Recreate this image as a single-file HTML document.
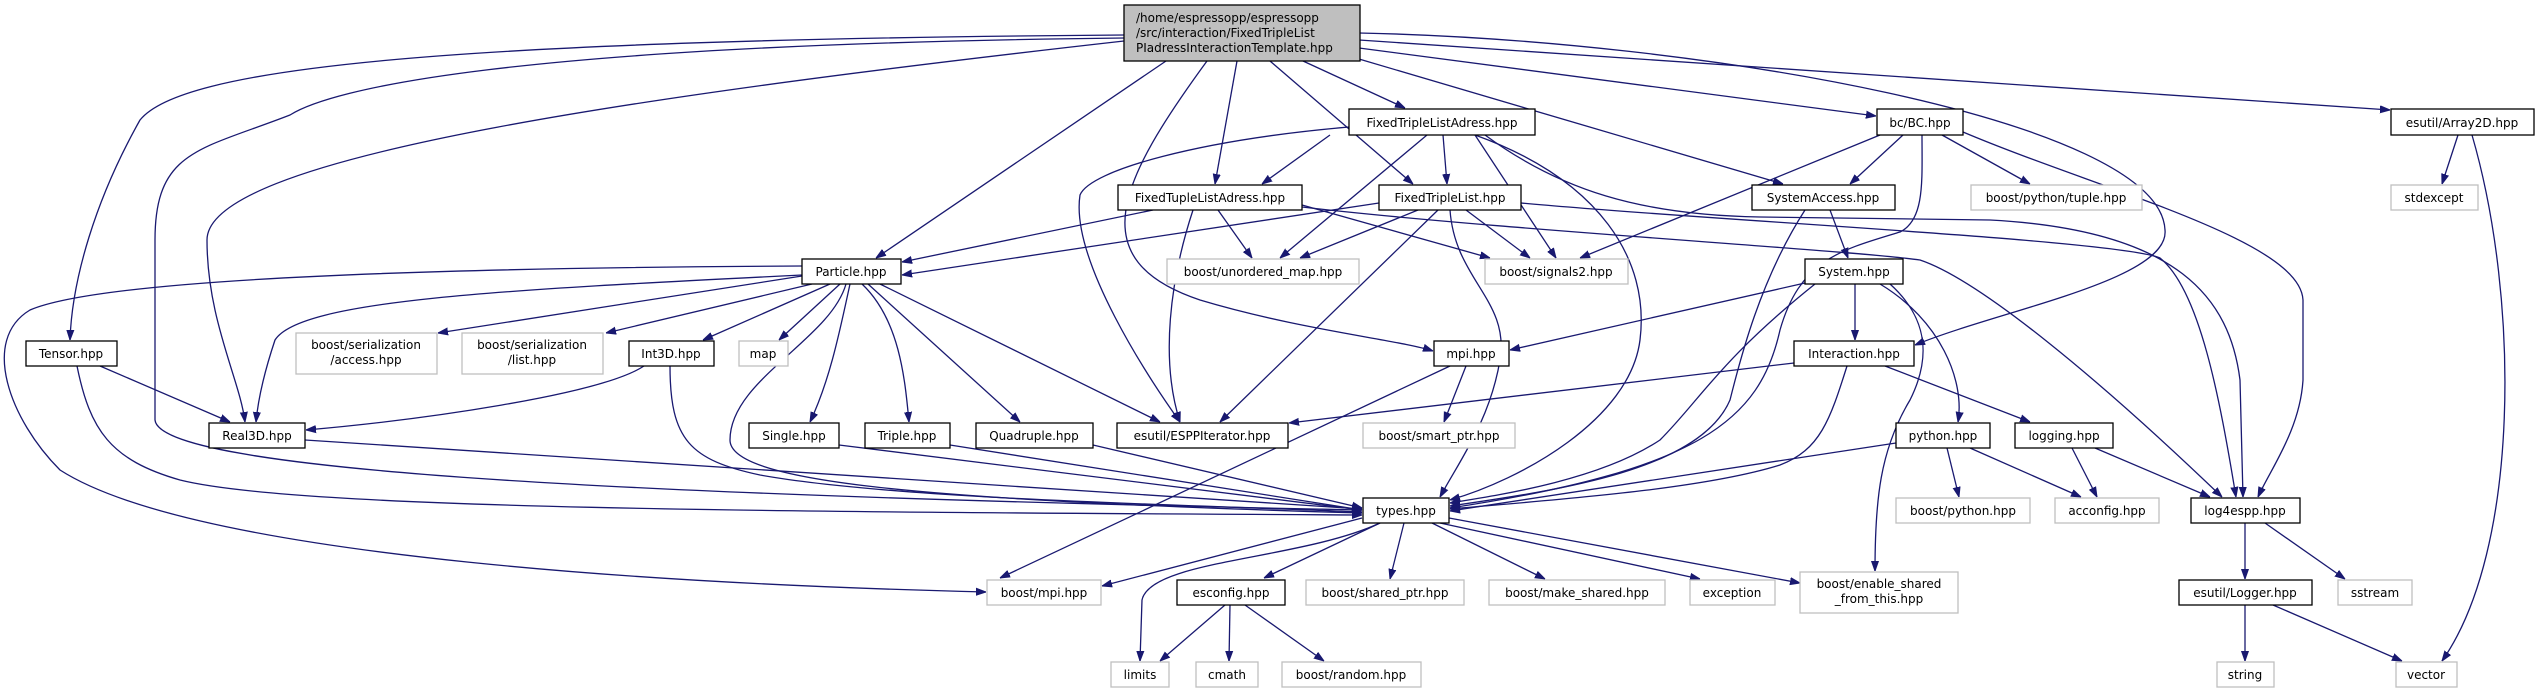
<!DOCTYPE html>
<html><head><meta charset="utf-8"><style>
html,body{margin:0;padding:0;background:#fff;}
svg{display:block;}
text{font-family:"DejaVu Sans","Liberation Sans",sans-serif;font-size:12px;fill:#000;}
.e{fill:none;stroke:#191970;stroke-width:1.3;marker-end:url(#a);}
.n{fill:#fff;stroke:#000;stroke-width:1.3;}
.g{fill:#fff;stroke:#bfbfbf;stroke-width:1.3;}
</style></head><body>
<svg width="2541" height="693" viewBox="0 0 2541 693" xmlns="http://www.w3.org/2000/svg">
<defs><marker id="a" viewBox="0 0 10 10" refX="10" refY="5" markerWidth="10" markerHeight="10" markerUnits="userSpaceOnUse" orient="auto"><path d="M0,1.5 L10,5 L0,8.5 z" fill="#191970" stroke="#191970"/></marker></defs>
<g>
<path class="e" d="M1124,35 C420,40 180,70 140,120 C95,200 72,280 70,340"/>
<path class="e" d="M1124,38 C500,45 330,90 290,115 C200,150 155,150 155,240 L155,420 C160,470 600,495 1362,510"/>
<path class="e" d="M1124,41 C600,100 207,160 207,240 C207,320 240,380 245,422"/>
<path class="e" d="M1166,61 L876,258"/>
<path class="e" d="M1207,61 C1120,180 1080,260 1200,300 C1300,330 1400,340 1433,351"/>
<path class="e" d="M1237,61 L1215,184"/>
<path class="e" d="M1303,61 L1405,108"/>
<path class="e" d="M1270,61 L1413,184"/>
<path class="e" d="M1359,59 L1783,184"/>
<path class="e" d="M1359,48 L1876,116"/>
<path class="e" d="M1359,33 C1700,40 2160,120 2165,230 C2170,280 2000,310 1915,345"/>
<path class="e" d="M1359,40 L2390,110"/>
<path class="e" d="M1330,135 L1262,184"/>
<path class="e" d="M1443,135 L1447,184"/>
<path class="e" d="M1427,135 L1280,258"/>
<path class="e" d="M1475,135 L1556,258"/>
<path class="e" d="M1349,127 C1200,140 1090,170 1080,195 C1070,260 1150,380 1180,422"/>
<path class="e" d="M1475,135 C1600,180 1650,260 1640,340 C1630,420 1520,480 1450,500"/>
<path class="e" d="M1485,135 C1560,190 1640,215 1760,217 L1990,220 C2180,230 2230,300 2240,380 L2243,497"/>
<path class="e" d="M1153,210 L902,262"/>
<path class="e" d="M1218,210 L1252,258"/>
<path class="e" d="M1302,205 L1490,258"/>
<path class="e" d="M1193,210 C1170,280 1160,360 1180,422"/>
<path class="e" d="M1302,207 C1500,230 1850,250 1920,260 C1980,280 2100,380 2222,497"/>
<path class="e" d="M1379,203 L902,275"/>
<path class="e" d="M1418,210 L1300,258"/>
<path class="e" d="M1466,210 L1530,258"/>
<path class="e" d="M1438,210 L1220,422"/>
<path class="e" d="M1450,210 C1455,280 1510,300 1500,360 C1490,420 1460,460 1440,497"/>
<path class="e" d="M1521,203 C1700,220 2120,240 2160,258 C2200,290 2220,400 2236,497"/>
<path class="e" d="M802,275 C500,290 300,300 275,340 C265,370 258,400 256,422"/>
<path class="e" d="M802,266 C400,268 100,280 30,310 C-20,340 10,420 60,470 C200,560 700,585 986,592"/>
<path class="e" d="M802,276 L438,333"/>
<path class="e" d="M812,284 L606,333"/>
<path class="e" d="M830,284 L703,340"/>
<path class="e" d="M840,284 L779,340"/>
<path class="e" d="M850,284 C840,330 830,380 810,422"/>
<path class="e" d="M862,284 C900,320 905,380 909,422"/>
<path class="e" d="M868,284 L1020,422"/>
<path class="e" d="M880,284 L1160,422"/>
<path class="e" d="M846,284 C830,340 730,380 730,440 C730,480 900,500 1362,513"/>
<path class="e" d="M100,366 L230,422"/>
<path class="e" d="M77,366 C90,430 110,460 180,480 C300,510 800,512 1362,515"/>
<path class="e" d="M644,366 C600,395 420,420 306,430"/>
<path class="e" d="M670,366 C670,440 690,460 760,475 C900,500 1200,505 1362,512"/>
<path class="e" d="M305,440 L1362,509"/>
<path class="e" d="M839,445 L1362,510"/>
<path class="e" d="M950,445 L1362,510"/>
<path class="e" d="M1093,445 L1362,508"/>
<path class="e" d="M1450,366 L1000,578"/>
<path class="e" d="M1466,366 L1444,422"/>
<path class="e" d="M1362,518 L1102,586"/>
<path class="e" d="M1380,523 C1300,560 1150,560 1142,600 L1140,661"/>
<path class="e" d="M1380,523 L1264,578"/>
<path class="e" d="M1404,523 L1390,579"/>
<path class="e" d="M1432,523 L1545,579"/>
<path class="e" d="M1440,523 L1700,579"/>
<path class="e" d="M1449,518 L1800,583"/>
<path class="e" d="M1225,605 L1160,661"/>
<path class="e" d="M1230,605 L1229,661"/>
<path class="e" d="M1245,605 L1324,661"/>
<path class="e" d="M1805,283 L1510,350"/>
<path class="e" d="M1815,284 C1720,360 1700,400 1660,440 C1600,480 1500,495 1450,503"/>
<path class="e" d="M1855,284 L1855,340"/>
<path class="e" d="M1880,284 C1940,320 1965,380 1958,422"/>
<path class="e" d="M1890,284 C1930,320 1930,360 1910,400 C1880,450 1875,500 1875,571"/>
<path class="e" d="M1830,210 L1848,258"/>
<path class="e" d="M1805,210 C1760,280 1740,360 1730,400 C1700,470 1560,490 1450,506"/>
<path class="e" d="M1903,135 L1850,184"/>
<path class="e" d="M1880,135 L1580,258"/>
<path class="e" d="M1922,135 C1922,180 1925,220 1900,232 C1840,250 1800,260 1780,330 C1760,420 1700,470 1450,508"/>
<path class="e" d="M1942,135 L2030,184"/>
<path class="e" d="M1963,132 C2100,190 2300,240 2303,300 L2303,380 C2300,430 2270,470 2258,497"/>
<path class="e" d="M1794,363 L1289,423"/>
<path class="e" d="M1847,366 C1830,420 1820,450 1780,465 C1700,490 1550,500 1450,509"/>
<path class="e" d="M1885,366 L2030,422"/>
<path class="e" d="M1896,443 L1450,511"/>
<path class="e" d="M1947,448 L1959,497"/>
<path class="e" d="M1970,448 L2081,497"/>
<path class="e" d="M2072,448 L2097,497"/>
<path class="e" d="M2095,448 L2210,497"/>
<path class="e" d="M2245,523 L2245,579"/>
<path class="e" d="M2265,523 L2345,579"/>
<path class="e" d="M2245,605 L2245,661"/>
<path class="e" d="M2273,605 L2402,661"/>
<path class="e" d="M2458,135 L2442,184"/>
<path class="e" d="M2472,135 C2520,300 2520,550 2442,661"/>
</g>
<g>
<rect x="1124" y="5" width="236" height="56" fill="#bfbfbf" stroke="#000" stroke-width="1.3"/>
<text x="1136" y="22">/home/espressopp/espressopp</text>
<text x="1136" y="37">/src/interaction/FixedTripleList</text>
<text x="1136" y="52">PIadressInteractionTemplate.hpp</text>
</g>
<g text-anchor="middle">
<rect class="n" x="1349" y="109" width="186" height="26"/><text x="1442" y="127">FixedTripleListAdress.hpp</text>
<rect class="n" x="1877" y="109" width="86" height="26"/><text x="1920" y="127">bc/BC.hpp</text>
<rect class="n" x="2391" y="109" width="143" height="26"/><text x="2462" y="127">esutil/Array2D.hpp</text>
<rect class="n" x="1118" y="185" width="184" height="25"/><text x="1210" y="202">FixedTupleListAdress.hpp</text>
<rect class="n" x="1379" y="185" width="142" height="25"/><text x="1450" y="202">FixedTripleList.hpp</text>
<rect class="n" x="1752" y="185" width="143" height="25"/><text x="1823" y="202">SystemAccess.hpp</text>
<rect class="g" x="1971" y="185" width="171" height="25"/><text x="2056" y="202">boost/python/tuple.hpp</text>
<rect class="g" x="2391" y="185" width="87" height="25"/><text x="2434" y="202">stdexcept</text>
<rect class="n" x="802" y="259" width="99" height="25"/><text x="851" y="276">Particle.hpp</text>
<rect class="g" x="1167" y="259" width="192" height="25"/><text x="1263" y="276">boost/unordered_map.hpp</text>
<rect class="g" x="1485" y="259" width="143" height="25"/><text x="1556" y="276">boost/signals2.hpp</text>
<rect class="n" x="1805" y="259" width="98" height="25"/><text x="1854" y="276">System.hpp</text>
<rect class="n" x="26" y="341" width="91" height="25"/><text x="71" y="358">Tensor.hpp</text>
<rect class="g" x="296" y="333" width="141" height="41"/><text x="366" y="349">boost/serialization</text><text x="366" y="364">/access.hpp</text>
<rect class="g" x="462" y="333" width="141" height="41"/><text x="532" y="349">boost/serialization</text><text x="532" y="364">/list.hpp</text>
<rect class="n" x="629" y="341" width="85" height="25"/><text x="671" y="358">Int3D.hpp</text>
<rect class="g" x="739" y="341" width="49" height="25"/><text x="763" y="358">map</text>
<rect class="n" x="1434" y="341" width="75" height="25"/><text x="1471" y="358">mpi.hpp</text>
<rect class="n" x="1794" y="341" width="120" height="25"/><text x="1854" y="358">Interaction.hpp</text>
<rect class="n" x="209" y="423" width="96" height="25"/><text x="257" y="440">Real3D.hpp</text>
<rect class="n" x="749" y="423" width="90" height="25"/><text x="794" y="440">Single.hpp</text>
<rect class="n" x="865" y="423" width="85" height="25"/><text x="907" y="440">Triple.hpp</text>
<rect class="n" x="976" y="423" width="117" height="25"/><text x="1034" y="440">Quadruple.hpp</text>
<rect class="n" x="1117" y="423" width="171" height="25"/><text x="1202" y="440">esutil/ESPPIterator.hpp</text>
<rect class="g" x="1363" y="423" width="152" height="25"/><text x="1439" y="440">boost/smart_ptr.hpp</text>
<rect class="n" x="1896" y="423" width="94" height="25"/><text x="1943" y="440">python.hpp</text>
<rect class="n" x="2015" y="423" width="98" height="25"/><text x="2064" y="440">logging.hpp</text>
<rect class="n" x="1363" y="498" width="86" height="25"/><text x="1406" y="515">types.hpp</text>
<rect class="g" x="1896" y="498" width="134" height="25"/><text x="1963" y="515">boost/python.hpp</text>
<rect class="g" x="2055" y="498" width="104" height="25"/><text x="2107" y="515">acconfig.hpp</text>
<rect class="n" x="2191" y="498" width="109" height="25"/><text x="2245" y="515">log4espp.hpp</text>
<rect class="g" x="987" y="580" width="114" height="25"/><text x="1044" y="597">boost/mpi.hpp</text>
<rect class="n" x="1177" y="580" width="108" height="25"/><text x="1231" y="597">esconfig.hpp</text>
<rect class="g" x="1306" y="580" width="158" height="25"/><text x="1385" y="597">boost/shared_ptr.hpp</text>
<rect class="g" x="1489" y="580" width="176" height="25"/><text x="1577" y="597">boost/make_shared.hpp</text>
<rect class="g" x="1690" y="580" width="85" height="25"/><text x="1732" y="597">exception</text>
<rect class="g" x="1800" y="572" width="158" height="41"/><text x="1879" y="588">boost/enable_shared</text><text x="1879" y="603">_from_this.hpp</text>
<rect class="n" x="2179" y="580" width="133" height="25"/><text x="2245" y="597">esutil/Logger.hpp</text>
<rect class="g" x="2338" y="580" width="74" height="25"/><text x="2375" y="597">sstream</text>
<rect class="g" x="1111" y="662" width="58" height="25"/><text x="1140" y="679">limits</text>
<rect class="g" x="1196" y="662" width="62" height="25"/><text x="1227" y="679">cmath</text>
<rect class="g" x="1282" y="662" width="139" height="25"/><text x="1351" y="679">boost/random.hpp</text>
<rect class="g" x="2217" y="662" width="57" height="25"/><text x="2245" y="679">string</text>
<rect class="g" x="2396" y="662" width="61" height="25"/><text x="2426" y="679">vector</text>
</g>
</svg>
</body></html>
